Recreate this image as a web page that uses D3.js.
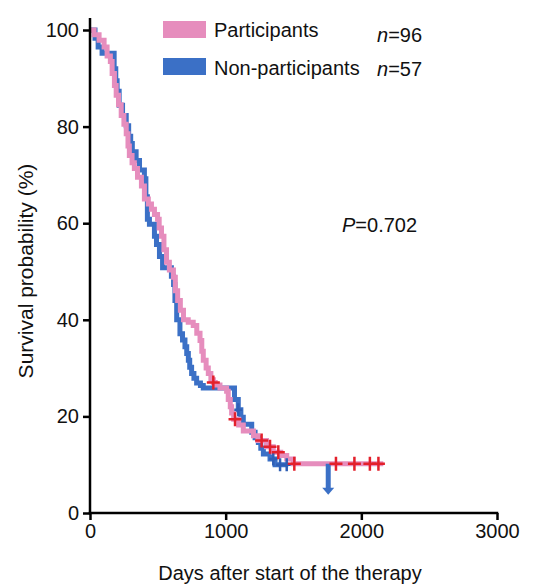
<!DOCTYPE html>
<html><head><meta charset="utf-8">
<script src="https://cdn.jsdelivr.net/npm/d3@7"></script>
<style>
html,body{margin:0;padding:0;background:#fff;}
svg{display:block;font-family:"Liberation Sans",Arial,sans-serif;}
</style></head>
<body><svg id="c" width="549" height="585"></svg>
<script>
// ---- data ----
const seriesNames = ["Participants", "Non-participants"];
const seriesN = ["96", "57"];
const xTicks = [0, 1000, 2000, 3000];
const yTicks = [0, 20, 40, 60, 80, 100];
const pValue = "0.702";

// Kaplan-Meier steps [days, survival %]
const participantsSteps = [[0,100],[30,99],[67,97.9],[104,96.5],[126,94.6],[150,93.5],[163,91],[180,88.5],[193,86.5],[210,84.5],[230,82.3],[250,80.5],[267,78.5],[280,76],[290,74],[310,72.5],[327,71.3],[350,69.5],[379,67.7],[401,65],[430,64],[453,62.9],[475,61.8],[498,60.8],[510,59],[527,57.3],[545,54.5],[564,51.9],[585,50.3],[615,48.8],[629,46],[646,44],[666,42],[689,40],[724,39.5],[761,38.8],[787,37.2],[811,35.7],[824,33.5],[835,31.6],[856,30],[872,28.9],[891,27.6],[909,27.0],[923,26.5],[958,25.9],[1007,25.2],[1019,23.5],[1034,22],[1044,20.7],[1059,19.4],[1096,18.2],[1130,17],[1205,16],[1238,15.0],[1301,13.7],[1351,12.6],[1406,11.9],[1450,11.2],[1498,10.2]];
const participantsEnd = 2162;
const participantsCensor = [909, 1069, 1265, 1327, 1388, 1506, 1813, 1949, 2063, 2126];

const nonParticipantsSteps = [[0,100],[37,98.3],[60,96.5],[89,95.2],[178,92],[190,89.5],[200,87.3],[215,84.4],[240,82.3],[267,80.2],[285,78],[300,76.5],[312,74.8],[340,73],[365,71],[401,69.2],[412,65.5],[423,60.8],[438,59.8],[475,57.3],[490,55.6],[512,53.1],[535,50.8],[600,49],[616,47.3],[626,44],[639,40],[663,37.1],[682,35.8],[700,34.4],[713,33],[725,31.6],[735,30.2],[749,28.9],[766,27.9],[786,26.9],[814,26.4],[835,25.9],[1065,23.5],[1093,21.4],[1112,19.8],[1130,18.4],[1192,16.7],[1217,15.6],[1241,14.6],[1259,13.4],[1278,12.2],[1327,11.2],[1364,10.0]];
const nonParticipantsEnd = 1461;
const nonParticipantsCensor = [1093, 1351, 1401, 1450];

const arrowTime = 1756, arrowFrom = 10.2, arrowTo = 3.8;

// ---- drawing ----
const svg = d3.select("#c");
const x = d3.scaleLinear().domain([0, 3000]).range([90, 497]);
const y = d3.scaleLinear().domain([0, 100]).range([513, 30]);

const pink = "#e68dbd", blue = "#3b70c6", red = "#e3202b";
const FS = 20;

function stepAt(steps, t){ let v = steps[0][1]; for (const s of steps){ if (s[0] <= t) v = s[1]; } return v; }

const line = d3.line().x(d => x(d[0])).y(d => y(d[1])).curve(d3.curveStepAfter);

const blueData = nonParticipantsSteps.concat([[nonParticipantsEnd, nonParticipantsSteps[nonParticipantsSteps.length-1][1]]]);
const pinkData = participantsSteps.concat([[participantsEnd, participantsSteps[participantsSteps.length-1][1]]]);

svg.append("path").attr("d", line(blueData)).attr("fill","none").attr("stroke", blue).attr("stroke-width", 5);
svg.append("path").attr("d", line(pinkData)).attr("fill","none").attr("stroke", pink).attr("stroke-width", 5);

// arrow
svg.append("line").attr("x1", x(arrowTime)).attr("x2", x(arrowTime))
  .attr("y1", y(arrowFrom)).attr("y2", y(arrowTo) - 6)
  .attr("stroke", blue).attr("stroke-width", 5);
svg.append("path")
  .attr("d", `M${x(arrowTime)-6},${y(arrowTo)-7} L${x(arrowTime)+6},${y(arrowTo)-7} L${x(arrowTime)},${y(arrowTo)} Z`)
  .attr("fill", blue);

// censor marks
function cross(t, v, col, w, h){
  const cx = x(t), cy = y(v);
  svg.append("path").attr("d", `M${cx-w/2},${cy} H${cx+w/2} M${cx},${cy-h/2} V${cy+h/2}`)
    .attr("stroke", col).attr("stroke-width", 2.5).attr("fill","none");
}
nonParticipantsCensor.forEach(t => cross(t, stepAt(nonParticipantsSteps, t), "#2f5fb5", 8, 13));
participantsCensor.forEach(t => cross(t, stepAt(participantsSteps, t), red, 13, 14));

// axes
const gy = svg.append("g").attr("transform", `translate(${x(0)},0)`)
  .call(d3.axisLeft(y).tickValues(yTicks).tickSize(7).tickPadding(4));
gy.select(".domain").remove();
gy.selectAll(".tick line").attr("stroke","#000").attr("stroke-width",2.5);
gy.selectAll(".tick text").attr("font-size", FS).attr("fill","#111").attr("font-family","Liberation Sans, Arial, sans-serif");
svg.append("line").attr("x1", x(0)).attr("x2", x(0)).attr("y1", 18).attr("y2", y(0)+1.25)
  .attr("stroke","#000").attr("stroke-width",2.5);

const gx = svg.append("g").attr("transform", `translate(0,${y(0)})`)
  .call(d3.axisBottom(x).tickValues(xTicks).tickFormat(d3.format("d")).tickSize(7).tickPadding(4));
gx.select(".domain").remove();
gx.selectAll(".tick line").attr("stroke","#000").attr("stroke-width",2.5);
gx.selectAll(".tick text").attr("font-size", FS).attr("fill","#111").attr("font-family","Liberation Sans, Arial, sans-serif");
svg.append("line").attr("x1", x(0)-1.25).attr("x2", x(3000)+1.25).attr("y1", y(0)).attr("y2", y(0))
  .attr("stroke","#000").attr("stroke-width",2.5);

// axis titles
svg.append("text").attr("x", 290).attr("y", 580).attr("text-anchor","middle")
  .attr("font-size", FS).attr("fill","#111").text("Days after start of the therapy");
svg.append("text").attr("transform", "translate(33,271) rotate(-90)").attr("text-anchor","middle")
  .attr("font-size", 21).attr("fill","#111").text("Survival probability (%)");

// legend
const legRectY = [21, 58];
const legTextY = [37, 75];
const legNY = [42, 76];
const legCol = [pink, blue];
seriesNames.forEach((name, i) => {
  svg.append("rect").attr("x", 163).attr("y", legRectY[i]).attr("width", 43).attr("height", 17).attr("fill", legCol[i]);
  svg.append("text").attr("x", 214).attr("y", legTextY[i]).attr("font-size", FS).attr("fill","#111").text(name);
  const t = svg.append("text").attr("x", 377).attr("y", legNY[i]).attr("font-size", FS).attr("fill","#111");
  t.append("tspan").attr("font-style","italic").text("n");
  t.append("tspan").text("=" + seriesN[i]);
});

// P value
const pt = svg.append("text").attr("x", 342).attr("y", 232).attr("font-size", FS).attr("fill","#111");
pt.append("tspan").attr("font-style","italic").text("P");
pt.append("tspan").text("=" + pValue);
</script>
</body></html>
